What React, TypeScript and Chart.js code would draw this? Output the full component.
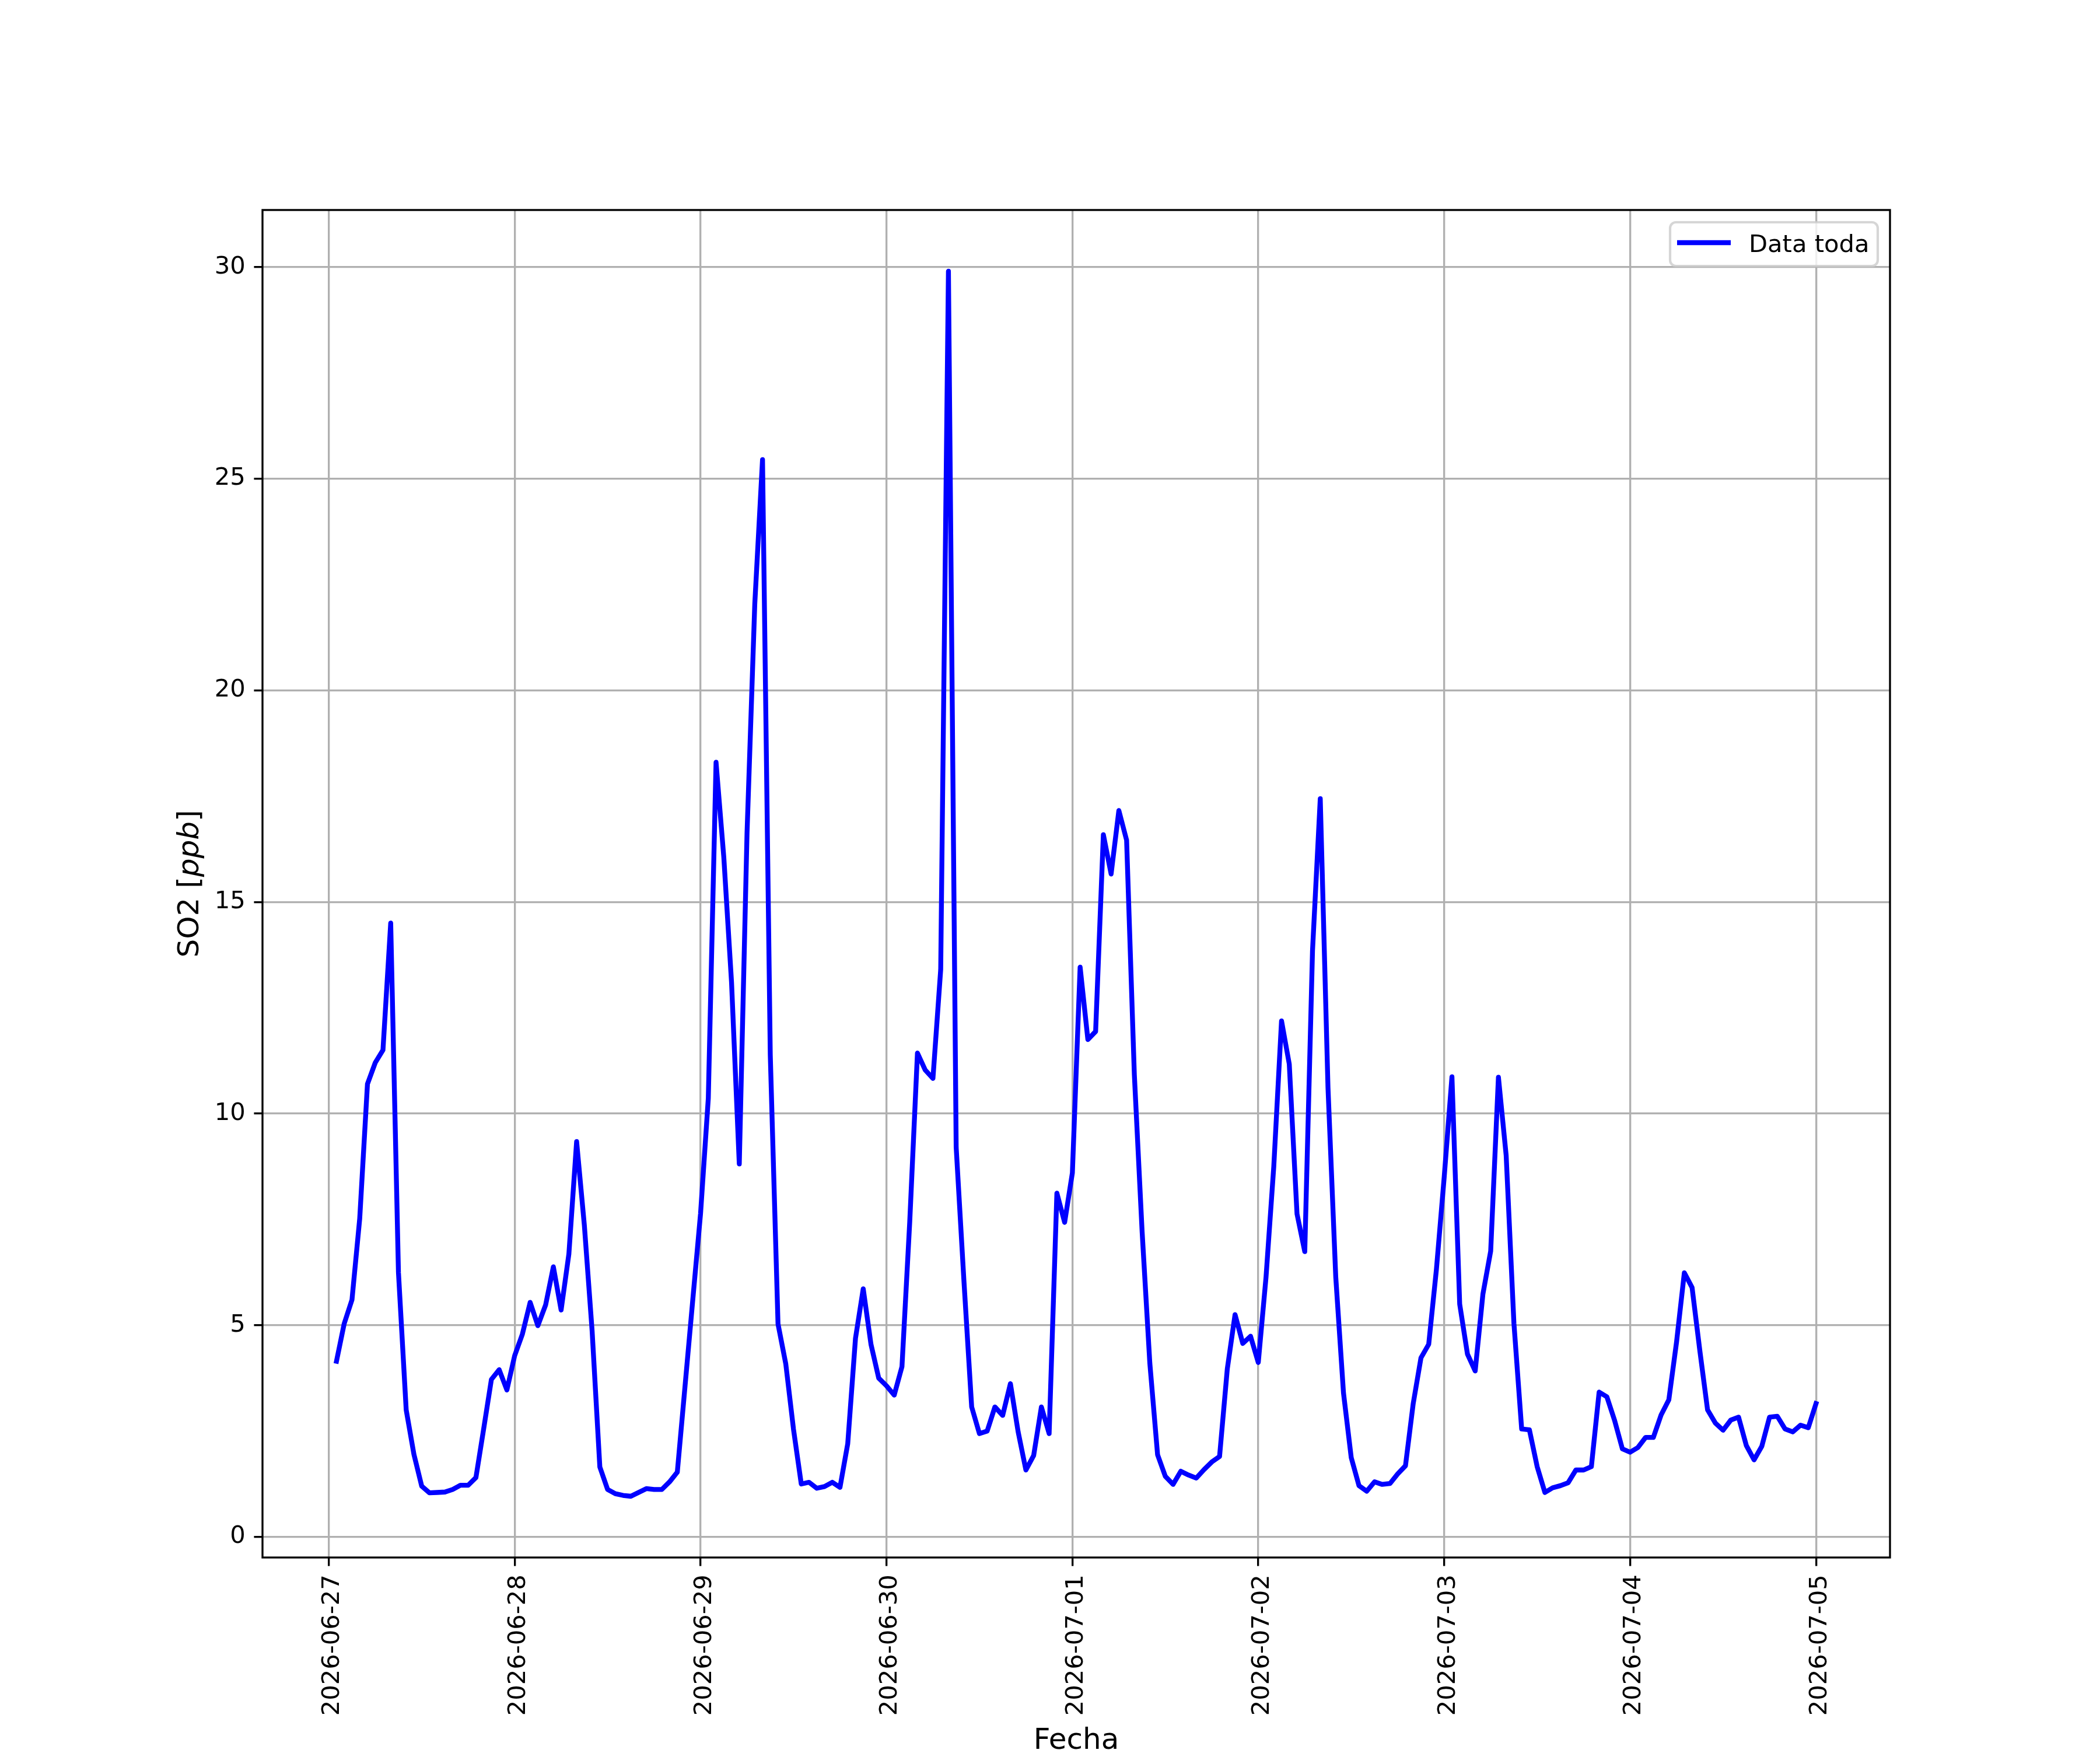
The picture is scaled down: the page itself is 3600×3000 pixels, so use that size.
import React, { useEffect, useRef } from 'react';
import { Chart, registerables } from 'chart.js';

Chart.register(...registerables);

// matplotlib figure 12x10 in at 300 dpi
const PT = 300 / 72;
const FONT = '"DejaVu Sans", sans-serif';

// SO2 hourly readings (ppb); first reading is 2026-06-27 01:00
const so2Jun27 = [
  4.15, 5.04, 5.6, 7.52, 10.7, 11.2, 11.5, 14.5, 6.25, 3.0, 1.95, 1.2,
  1.04, 1.05, 1.06, 1.12, 1.22, 1.22, 1.4, 2.55, 3.72, 3.95, 3.47,
];
const so2Jun28 = [
  4.28, 4.79, 5.54, 4.99, 5.48, 6.38, 5.36, 6.68, 9.34, 7.36, 4.87, 1.65,
  1.12, 1.02, 0.98, 0.96, 1.05, 1.14, 1.12, 1.12, 1.3, 1.53, 3.57, 5.61,
];
const so2Jun29 = [
  7.64, 10.36, 18.3, 16.06, 13.1, 8.81, 16.63, 22.04, 25.45, 11.39, 5.03, 4.09,
  2.54, 1.25, 1.29, 1.15, 1.19, 1.29, 1.17, 2.2, 4.69, 5.86, 4.55, 3.75,
];
const so2Jun30 = [
  3.57, 3.35, 4.02, 7.43, 11.43, 11.03, 10.83, 13.4, 29.9, 9.2, 6.05, 3.07,
  2.44, 2.5, 3.07, 2.87, 3.62, 2.48, 1.58, 1.92, 3.07, 2.44, 8.12, 7.43,
];
const so2Jul01 = [
  8.6, 13.46, 11.75, 11.94, 16.59, 15.66, 17.16, 16.46, 10.92, 7.22, 4.1, 1.94,
  1.43, 1.24, 1.55, 1.46, 1.39, 1.59, 1.77, 1.9, 3.97, 5.25, 4.57, 4.74,
];
const so2Jul02 = [
  4.12, 6.14, 8.75, 12.19, 11.17, 7.63, 6.74, 13.85, 17.44, 10.6, 6.14, 3.4,
  1.87, 1.21, 1.08, 1.3, 1.24, 1.26, 1.49, 1.68, 3.15, 4.23, 4.55, 6.33,
];
const so2Jul03 = [
  8.5, 10.87, 5.5, 4.32, 3.92, 5.74, 6.75, 10.86, 9.01, 5.05, 2.55, 2.53,
  1.66, 1.05, 1.16, 1.21, 1.28, 1.58, 1.58, 1.66, 3.42, 3.31, 2.75, 2.08,
];
const so2Jul04 = [
  2.0, 2.11, 2.35, 2.35, 2.88, 3.24, 4.61, 6.24, 5.89, 4.4, 3.0, 2.69,
  2.52, 2.76, 2.83, 2.16, 1.82, 2.14, 2.83, 2.85, 2.55, 2.48, 2.64, 2.58,
];
const so2Jul05 = [3.15];

// day ticks, in hours since 2026-06-27 00:00
const dayTickHours = [0, 24, 48, 72, 96, 120, 144, 168, 192];
const dayTickLabels = [
  '2026-06-27', '2026-06-28', '2026-06-29', '2026-06-30', '2026-07-01',
  '2026-07-02', '2026-07-03', '2026-07-04', '2026-07-05',
];
const yTickValues = [0, 5, 10, 15, 20, 25, 30];
const firstHour = 1;

const so2Values = [
  ...so2Jun27, ...so2Jun28, ...so2Jun29, ...so2Jun30,
  ...so2Jul01, ...so2Jul02, ...so2Jul03, ...so2Jul04, ...so2Jul05,
];
const points = so2Values.map((v, i) => ({ x: firstHour + i, y: v }));

// matplotlib-like 5% margins
const xLo = firstHour;
const xHi = firstHour + so2Values.length - 1;
const yLo = Math.min(...so2Values);
const yHi = Math.max(...so2Values);
const xPad = (xHi - xLo) * 0.05;
const yPad = (yHi - yLo) * 0.05;

const decor = {
  id: 'decor',
  afterDraw(chart: any) {
    const { ctx, chartArea: a } = chart;
    ctx.save();

    // spines
    ctx.strokeStyle = '#000';
    ctx.lineWidth = 0.8 * PT;
    ctx.strokeRect(a.left, a.top, a.right - a.left, a.bottom - a.top);

    // legend
    const bx = a.right - 377;
    const by = a.top + 21;
    const bw = 356;
    const bh = 75;
    ctx.beginPath();
    ctx.roundRect(bx, by, bw, bh, 10);
    ctx.fillStyle = 'rgba(255,255,255,0.8)';
    ctx.fill();
    ctx.strokeStyle = 'rgba(204,204,204,0.8)';
    ctx.lineWidth = 1 * PT;
    ctx.stroke();
    ctx.beginPath();
    ctx.moveTo(a.right - 365, a.top + 56);
    ctx.lineTo(a.right - 273, a.top + 56);
    ctx.strokeStyle = '#0000ff';
    ctx.lineWidth = 2 * PT;
    ctx.stroke();
    ctx.fillStyle = '#000';
    ctx.font = `${10 * PT}px ${FONT}`;
    ctx.textAlign = 'left';
    ctx.textBaseline = 'alphabetic';
    ctx.fillText('Data toda', a.right - 242, a.top + 72);

    // x label
    ctx.font = `${12 * PT}px ${FONT}`;
    ctx.textAlign = 'center';
    ctx.fillText('Fecha', (a.left + a.right) / 2, a.bottom + 328);

    // y label: SO2 [ppb] with italic ppb
    const parts = [
      { t: 'SO2 [', f: `${12 * PT}px ${FONT}` },
      { t: 'ppb', f: `italic ${12 * PT}px ${FONT}` },
      { t: ']', f: `${12 * PT}px ${FONT}` },
    ];
    const widths = parts.map((p) => {
      ctx.font = p.f;
      return ctx.measureText(p.t).width;
    });
    const total = widths.reduce((s, w) => s + w, 0);
    ctx.translate(340, (a.top + a.bottom) / 2);
    ctx.rotate(-Math.PI / 2);
    ctx.textAlign = 'left';
    let x = -total / 2;
    parts.forEach((p, i) => {
      ctx.font = p.f;
      ctx.fillText(p.t, x, 0);
      x += widths[i];
    });
    ctx.restore();
  },
};

const App: React.FC = () => {
  const canvasRef = useRef<HTMLCanvasElement | null>(null);
  const chartRef = useRef<Chart | null>(null);

  useEffect(() => {
    if (!canvasRef.current) return;
    if (chartRef.current) chartRef.current.destroy();

    Chart.defaults.color = '#000';
    Chart.defaults.font.family = FONT;

    const gridOpts = {
      color: '#b0b0b0',
      lineWidth: 0.8 * PT,
      tickColor: '#000',
      tickWidth: 0.8 * PT,
      tickLength: 3.5 * PT,
    };

    chartRef.current = new Chart(canvasRef.current, {
      type: 'line',
      data: {
        datasets: [
          {
            label: 'Data toda',
            data: points,
            borderColor: '#0000ff',
            borderWidth: 2 * PT,
            pointRadius: 0,
            tension: 0,
            fill: false,
            borderJoinStyle: 'round',
            borderCapStyle: 'square',
          },
        ],
      },
      options: {
        animation: false,
        responsive: false,
        devicePixelRatio: 1,
        layout: { padding: { left: 0, top: 360, right: 360, bottom: 0 } },
        plugins: {
          legend: { display: false },
          tooltip: { enabled: false },
        },
        scales: {
          x: {
            type: 'linear',
            min: xLo - xPad,
            max: xHi + xPad,
            afterFit: (s: any) => {
              s.height = 330;
            },
            afterBuildTicks: (s: any) => {
              s.ticks = dayTickHours.map((v) => ({ value: v }));
            },
            grid: gridOpts,
            border: { display: false },
            ticks: {
              autoSkip: false,
              minRotation: 90,
              maxRotation: 90,
              padding: 3.5 * PT,
              labelOffset: 7,
              font: { size: 10 * PT },
              callback: (v: any) => dayTickLabels[dayTickHours.indexOf(Number(v))] ?? '',
            },
          },
          y: {
            type: 'linear',
            min: yLo - yPad,
            max: yHi + yPad,
            afterFit: (s: any) => {
              s.width = 450;
            },
            afterBuildTicks: (s: any) => {
              s.ticks = yTickValues.map((v) => ({ value: v }));
            },
            grid: gridOpts,
            border: { display: false },
            ticks: {
              padding: 3.5 * PT,
              font: { size: 10 * PT },
              callback: (v: any) => String(v),
            },
          },
        },
      } as any,
      plugins: [decor],
    });

    return () => {
      if (chartRef.current) {
        chartRef.current.destroy();
        chartRef.current = null;
      }
    };
  }, []);

  return (
    <div style={{ position: 'absolute', left: 0, top: 0, width: 3600, height: 3000, background: '#fff' }}>
      <canvas ref={canvasRef} width={3600} height={3000} style={{ width: 3600, height: 3000 }} />
    </div>
  );
};

export default App;
